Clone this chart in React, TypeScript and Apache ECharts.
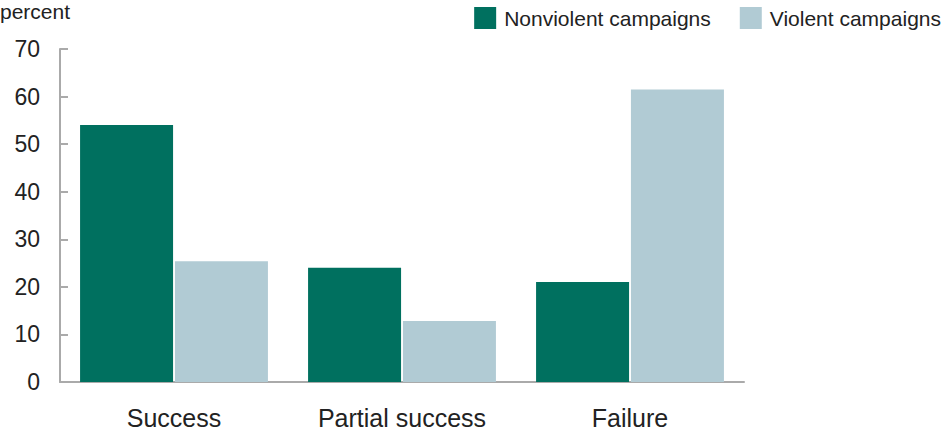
import React, { useEffect, useRef } from "react";
import * as echarts from "echarts";

const categories = ["Success", "Partial success", "Failure"];
const nonviolent = [54, 24, 21];
const violent = [25.4, 12.8, 61.5];
const seriesNames = ["Nonviolent campaigns", "Violent campaigns"];
const yTicks = [0, 10, 20, 30, 40, 50, 60, 70];

const FONT = "Liberation Sans, Arial, sans-serif";
const TEXT = "#222";

export default function App() {
  const ref = useRef<HTMLDivElement>(null);
  useEffect(() => {
    const chart = echarts.init(ref.current!, null, { renderer: "svg" });
    chart.setOption({
      animation: false,
      textStyle: { fontFamily: FONT },
      grid: { left: 60, right: 207, top: 49, bottom: 50, containLabel: false },
      legend: {
        top: 7,
        right: 10,
        padding: 0,
        itemWidth: 22,
        itemHeight: 22,
        itemGap: 29,
        icon: "rect",
        textStyle: { fontSize: 21, color: TEXT, fontFamily: FONT, padding: [0, 0, 0, 3] },
        data: seriesNames,
      },
      graphic: [
        {
          type: "text",
          x: 0,
          y: 1,
          style: {
            text: "percent",
            fontSize: 21,
            fill: TEXT,
            fontFamily: FONT,
            verticalAlign: "top",
          },
        },
      ],
      xAxis: {
        type: "category",
        data: categories,
        axisLine: { lineStyle: { color: "#aaa", width: 2 } },
        axisTick: { show: false },
        axisLabel: { fontSize: 25, color: TEXT, margin: 23, fontFamily: FONT },
      },
      yAxis: {
        type: "value",
        min: yTicks[0],
        max: yTicks[yTicks.length - 1],
        interval: 10,
        axisLine: { show: true, lineStyle: { color: "#aaa", width: 2 } },
        axisTick: { show: true, inside: true, length: 8, lineStyle: { color: "#aaa", width: 2 } },
        splitLine: { show: false },
        axisLabel: { fontSize: 23, color: TEXT, margin: 20, fontFamily: FONT },
      },
      series: [
        {
          name: seriesNames[0],
          type: "bar",
          data: nonviolent,
          itemStyle: { color: "#00705f" },
          barWidth: 93,
          barGap: "2%",
        },
        {
          name: seriesNames[1],
          type: "bar",
          data: violent,
          itemStyle: { color: "#b1cbd4" },
          barWidth: 93,
        },
      ],
    });
    return () => chart.dispose();
  }, []);
  return (
    <div
      ref={ref}
      style={{ position: "absolute", left: 0, top: 0, width: 951, height: 432 }}
    />
  );
}
